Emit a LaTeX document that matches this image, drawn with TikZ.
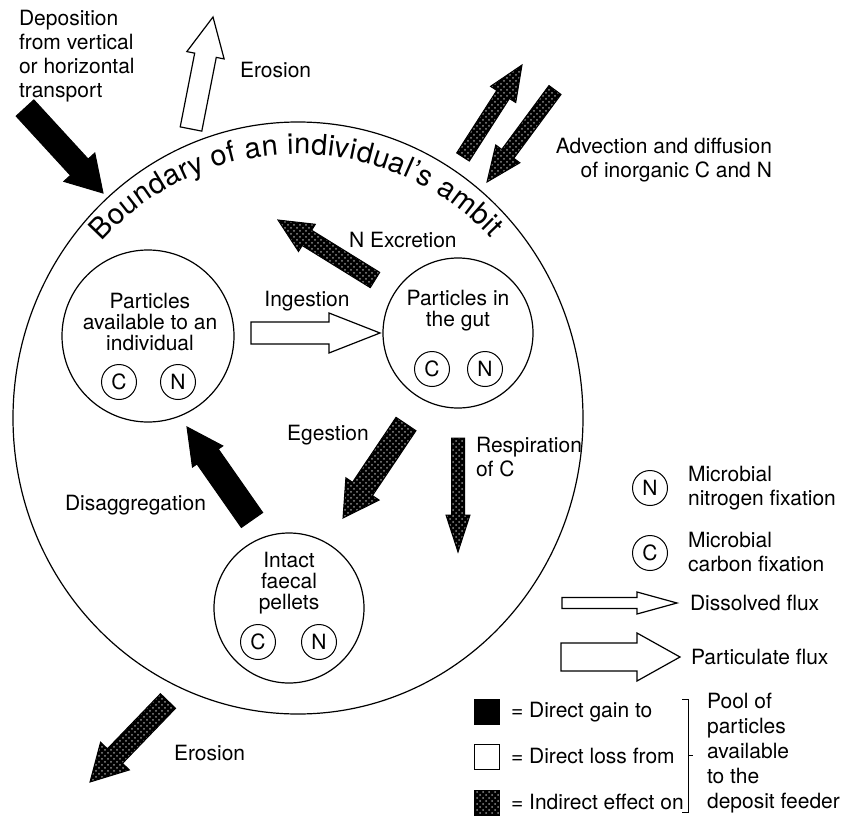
\documentclass[tikz,border=0pt]{standalone}
\usepackage{fontspec}
\setmainfont{TeX Gyre Heros}
\usetikzlibrary{calc, shapes.geometric, decorations.text, patterns}

% block arrow: style, tail, tip, half shaft, half head, head length
\newcommand{\flux}[6]{%
  \coordinate (fluxbase) at ($(#3)!#6!(#2)$);
  \draw[#1] ($(#2)!#4!90:(#3)$) -- ($(fluxbase)!#4!90:(#3)$) -- ($(fluxbase)!#5!90:(#3)$) -- (#3)
    -- ($(fluxbase)!#5!-90:(#3)$) -- ($(fluxbase)!#4!-90:(#3)$) -- ($(#2)!#4!-90:(#3)$) -- cycle;
}

\tikzset{
  gain/.style={draw=black, fill=black, line width=0.5pt},
  loss/.style={draw=black, fill=white, line width=0.6pt},
  indirect/.style={draw=black, line width=0.5pt, preaction={fill=black}, pattern=crosshatch dots, pattern color=black!45},
  pool/.style={draw, circle, line width=0.6pt, inner sep=0pt},
  fixer/.style={draw, circle, line width=0.5pt, minimum size=17.5pt, inner sep=0pt},
  lbl/.style={align=center, inner sep=0pt, font=\fontsize{10.5}{10.5}\selectfont},
}

\begin{document}
\begin{tikzpicture}[x=0.5pt, y=-0.5pt, font=\fontsize{10.5}{12}\selectfont]
\useasboundingbox (0,0) rectangle (846,819);

% the ambit and the three pools
\node[draw, ellipse, line width=0.6pt, minimum width=285pt, minimum height=296pt, inner sep=0pt] (ambit) at (298,418) {};
\node[pool, minimum size=86pt] (avail) at (148,336) {};
\node[pool, minimum size=75pt] (gut) at (458,333) {};
\node[pool, minimum size=75pt] (pellets) at (289,608) {};

\node[lbl] (availtext) at (150,322) {Particles\\available to an\\individual};
\node[lbl] (guttext) at (458,311) {Particles in\\the gut};
\node[lbl] (pelletstext) at (289,583) {Intact\\faecal\\pellets};

\node[fixer] (availC) at (119,382) {C};
\node[fixer] (availN) at (178,382) {N};
\node[fixer] (gutC) at (432,369) {C};
\node[fixer] (gutN) at (485,369) {N};
\node[fixer] (pelletsC) at (258,642) {C};
\node[fixer] (pelletsN) at (319,642) {N};

% text round the boundary
\begin{scope}[shift={(298,418)}, x=0.5pt, y=0.5pt]
  \path[decorate, decoration={text along path, text align={fit to path},
    text={|\fontsize{14.5}{14.5}\selectfont|Boundary of an individual’s ambit}}]
    (138:264) arc[start angle=138, end angle=43, radius=264];
\end{scope}

% fluxes across the boundary
\coordinate (deptail) at (25,108);
\coordinate (deptip) at (103,193);
\flux{gain}{deptail}{deptip}{6pt}{10.5pt}{17.5pt}
\node[anchor=west, align=left] (deptext) at (12,56) {Deposition\\from vertical\\or horizontal\\transport};

\coordinate (erotail) at (191,129);
\coordinate (erotip) at (213,17);
\flux{loss}{erotail}{erotip}{5.5pt}{9.5pt}{19.5pt}
\node[anchor=west] (erotext) at (233,70) {Erosion};

\coordinate (outtail) at (463,157);
\coordinate (outtip) at (522,65);
\flux{indirect}{outtail}{outtip}{3.75pt}{7.5pt}{17.5pt}
\coordinate (intail) at (555,90);
\coordinate (intip) at (487,182);
\flux{indirect}{intail}{intip}{3.75pt}{7.5pt}{17.5pt}
\node[anchor=east, align=right] (advtext) at (779,160) {Advection and diffusion\\of inorganic C and N};

\coordinate (sinktail) at (168,701);
\coordinate (sinktip) at (90,782);
\flux{indirect}{sinktail}{sinktip}{5.25pt}{10pt}{18pt}
\node[anchor=west] (sinktext) at (167,753) {Erosion};

% fluxes between the pools
\coordinate (extail) at (375,280);
\coordinate (extip) at (278,220);
\flux{indirect}{extail}{extip}{4.5pt}{8pt}{17pt}
\node[anchor=west] (extext) at (342,240) {N Excretion};

\coordinate (ingtail) at (251,333);
\coordinate (ingtip) at (380,333);
\flux{loss}{ingtail}{ingtip}{5.5pt}{10pt}{25.5pt}
\node (ingtext) at (307,301) {Ingestion};

\coordinate (egtail) at (406,424);
\coordinate (egtip) at (343,518);
\flux{indirect}{egtail}{egtip}{6pt}{10pt}{17.5pt}
\node (egtext) at (328,435) {Egestion};

\coordinate (resptail) at (458,438);
\coordinate (resptip) at (458,552);
\flux{indirect}{resptail}{resptip}{3.25pt}{6pt}{18.5pt}
\node[anchor=west, align=left] (resptext) at (469,457) {Respiration\\of C};

\coordinate (distail) at (252,520);
\coordinate (distip) at (187,427);
\flux{gain}{distail}{distip}{6.5pt}{9.25pt}{18pt}
\node[anchor=west] (distext) at (58,505) {Disaggregation};

% key
\node[fixer] (keyN) at (650,488) {N};
\node[anchor=west, align=left] (keyNtext) at (681,488) {Microbial\\nitrogen fixation};
\node[fixer] (keyC) at (650,553) {C};
\node[anchor=west, align=left] (keyCtext) at (681,552) {Microbial\\carbon fixation};

\coordinate (dissolvedtail) at (562,603);
\coordinate (dissolvedtip) at (677,603);
\flux{loss}{dissolvedtail}{dissolvedtip}{2.75pt}{5.5pt}{20pt}
\node[anchor=west] (dissolved) at (683,603) {Dissolved flux};

\coordinate (particulatetail) at (561,657);
\coordinate (particulatetip) at (680,657);
\flux{loss}{particulatetail}{particulatetip}{7pt}{12pt}{21.5pt}
\node[anchor=west] (particulate) at (684,657) {Particulate flux};

\node[gain, minimum size=12.5pt, inner sep=0pt] (keygain) at (487,712) {};
\node[anchor=west] (gaintext) at (504,712) {= Direct gain to};
\node[loss, minimum size=12.5pt, inner sep=0pt] (keyloss) at (487,757) {};
\node[anchor=west] (losstext) at (504,756) {= Direct loss from};
\node[indirect, minimum size=12.5pt, inner sep=0pt] (keyindirect) at (487,803) {};
\node[anchor=west] (indirecttext) at (504,802) {= Indirect effect on};

\draw[line width=0.5pt] (682,699) -- (688,699) -- (688,812) -- (682,812);
\draw[line width=0.5pt] (688,755) -- (693,755);
\node[anchor=west, align=left, font=\fontsize{10.5}{12.5}\selectfont] (pooltext) at (700,753) {Pool of\\particles\\available\\to the\\deposit feeder};
\end{tikzpicture}
\end{document}
